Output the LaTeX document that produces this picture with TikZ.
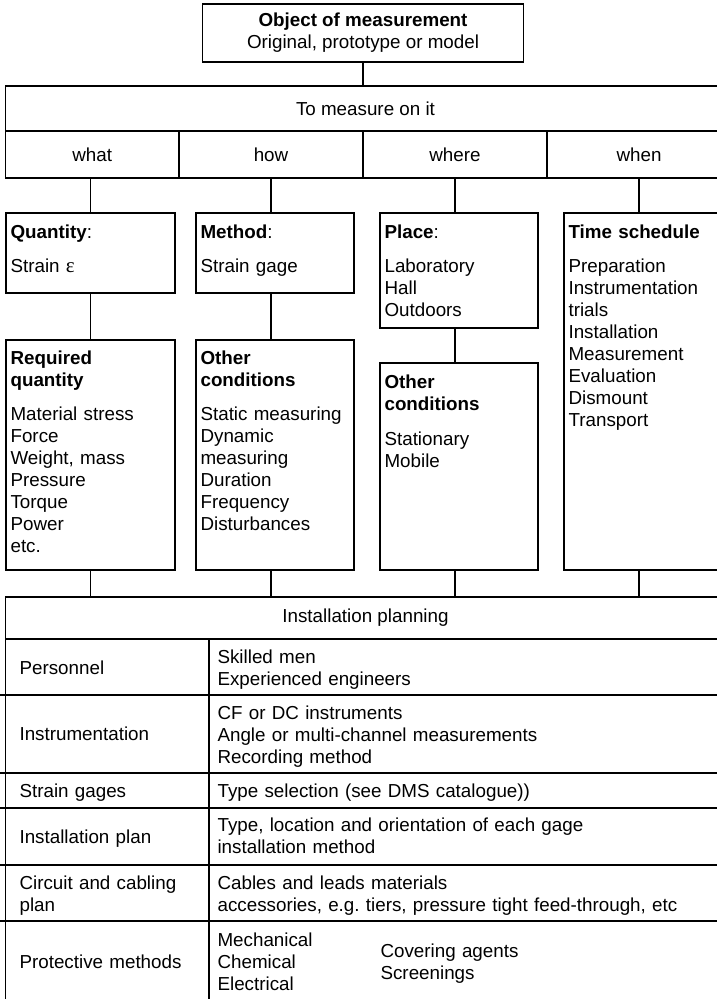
\documentclass[tikz,border=0pt]{standalone}
\usepackage{fontspec}
\setmainfont{Liberation Sans}
\newfontfamily\epsfont{Liberation Serif}
\usetikzlibrary{positioning}
\frenchspacing

\tikzset{
    frame/.style={draw, line width=1.1pt, inner sep=0pt, outer sep=0pt, anchor=north west},
    entry/.style={inner sep=0pt, anchor=base west, align=left, text width=185pt},
}

\begin{document}
\begin{tikzpicture}[x=1pt, y=-1pt, line width=1.1pt,
    every node/.append style={font=\fontsize{18.8}{22}\selectfont}]

    \useasboundingbox (0, 0) rectangle (717, 999);
    \clip (0, 0) rectangle (717, 999);

    % object and the four questions
    \node[frame, minimum width=321pt, minimum height=58pt, align=center] (obj) at (202.5, 4) {\textbf{Object of measurement}\\Original, prototype or model};
    \node[frame, minimum width=720pt, minimum height=45pt] (meas) at (5.5, 86) {To measure on it};
    \node[frame, minimum width=173.5pt, minimum height=47pt] (what) at (5.5, 131) {what};
    \node[frame, minimum width=184pt, minimum height=47pt, right=0pt of what] (how) {how};
    \node[frame, minimum width=184pt, minimum height=47pt, right=0pt of how] (where) {where};
    \node[frame, minimum width=184pt, minimum height=47pt, right=0pt of where] (when) {when};

    % boxes
    \node[frame, minimum width=169pt, minimum height=80pt] (qty) at (6, 213) {};
    \node[frame, minimum width=158pt, minimum height=80pt] (meth) at (196, 213) {};
    \node[frame, minimum width=158pt, minimum height=115pt] (place) at (380, 213) {};
    \node[frame, minimum width=160pt, minimum height=357pt] (sched) at (564, 213) {};
    \node[frame, minimum width=169pt, minimum height=230pt] (req) at (6, 340) {};
    \node[frame, minimum width=158pt, minimum height=230pt] (cond) at (196, 340) {};
    \node[frame, minimum width=158pt, minimum height=207pt] (pcond) at (380, 363) {};

    \node[entry, text width=160pt] (qty-t) at ([shift={(4, 25)}]qty.north west) {\textbf{Quantity}:\\[12pt]Strain {\epsfont\fontsize{21}{22}\selectfont ε}};
    \node[entry, text width=152pt] (meth-t) at ([shift={(4, 25)}]meth.north west) {\textbf{Method}:\\[12pt]Strain gage};
    \node[entry, text width=152pt] (place-t) at ([shift={(4, 25)}]place.north west) {\textbf{Place}:\\[12pt]Laboratory\\Hall\\Outdoors};
    \node[entry, text width=155pt] (sched-t) at ([shift={(4, 25)}]sched.north west) {\textbf{Time schedule}\\[12pt]Preparation\\Instrumentation\\trials\\Installation\\Measurement\\Evaluation\\Dismount\\Transport};
    \node[entry, text width=160pt] (req-t) at ([shift={(4, 24)}]req.north west) {\textbf{Required}\\\textbf{quantity}\\[12pt]Material stress\\Force\\Weight, mass\\Pressure\\Torque\\Power\\etc.};
    \node[entry, text width=152pt] (cond-t) at ([shift={(4, 24)}]cond.north west) {\textbf{Other}\\\textbf{conditions}\\[12pt]Static measuring\\Dynamic\\measuring\\Duration\\Frequency\\Disturbances};
    \node[entry, text width=152pt] (pcond-t) at ([shift={(4, 25)}]pcond.north west) {\textbf{Other}\\\textbf{conditions}\\[13pt]Stationary\\Mobile};

    % connectors
    \draw (obj.south) -- (obj.south |- meas.north);
    \draw (qty.north) -- (qty.north |- what.south);
    \draw (how.south) -- (how.south |- meth.north);
    \draw (where.south) -- (where.south |- place.north);
    \draw (when.south) -- (when.south |- sched.north);
    \draw (qty.south) -- (req.north);
    \draw (how.south |- meth.south) -- (how.south |- cond.north);
    \draw (where.south |- place.south) -- (where.south |- pcond.north);

    % installation planning
    \node[frame, minimum width=720pt, minimum height=42pt] (inst) at (5.5, 597) {Installation planning};
    \coordinate (div) at (209, 639);
    \draw (inst.south west) -- ++(0, 420);
    \draw (inst.south east) -- ++(0, 420);
    \draw (div) -- ++(0, 420);
    \foreach \y in {695, 773, 808, 865, 921}
        \draw (0, \y) -- (725.5, \y);

    \draw (req.south) -- (req.south |- inst.north);
    \draw (how.south |- cond.south) -- (how.south |- inst.north);
    \draw (where.south |- pcond.south) -- (where.south |- inst.north);
    \draw (when.south |- sched.south) -- (when.south |- inst.north);

    \node[entry] (pers) at (19, 674) {Personnel};
    \node[entry] (instr) at (19, 740) {Instrumentation};
    \node[entry] (gages) at (19, 797) {Strain gages};
    \node[entry] (iplan) at (19, 843) {Installation plan};
    \node[entry] (circ) at (19, 889) {Circuit and cabling\\plan};
    \node[entry] (prot) at (19, 968) {Protective methods};

    \node[entry, text width=500pt] (pers-r) at (217, 663) {Skilled men\\Experienced engineers};
    \node[entry, text width=500pt] (instr-r) at (217, 719) {CF or DC instruments\\Angle or multi-channel measurements\\Recording method};
    \node[entry, text width=500pt] (gages-r) at (217, 797) {Type selection (see DMS catalogue))};
    \node[entry, text width=500pt] (iplan-r) at (217, 831) {Type, location and orientation of each gage\\installation method};
    \node[entry, text width=500pt] (circ-r) at (217, 889) {Cables and leads materials\\accessories, e.g. tiers, pressure tight feed-through, etc};
    \node[entry, text width=150pt] (prot-r) at (217, 946) {Mechanical\\Chemical\\Electrical};
    \node[entry, text width=200pt] (prot-s) at (380, 957) {Covering agents\\Screenings};

\end{tikzpicture}
\end{document}
